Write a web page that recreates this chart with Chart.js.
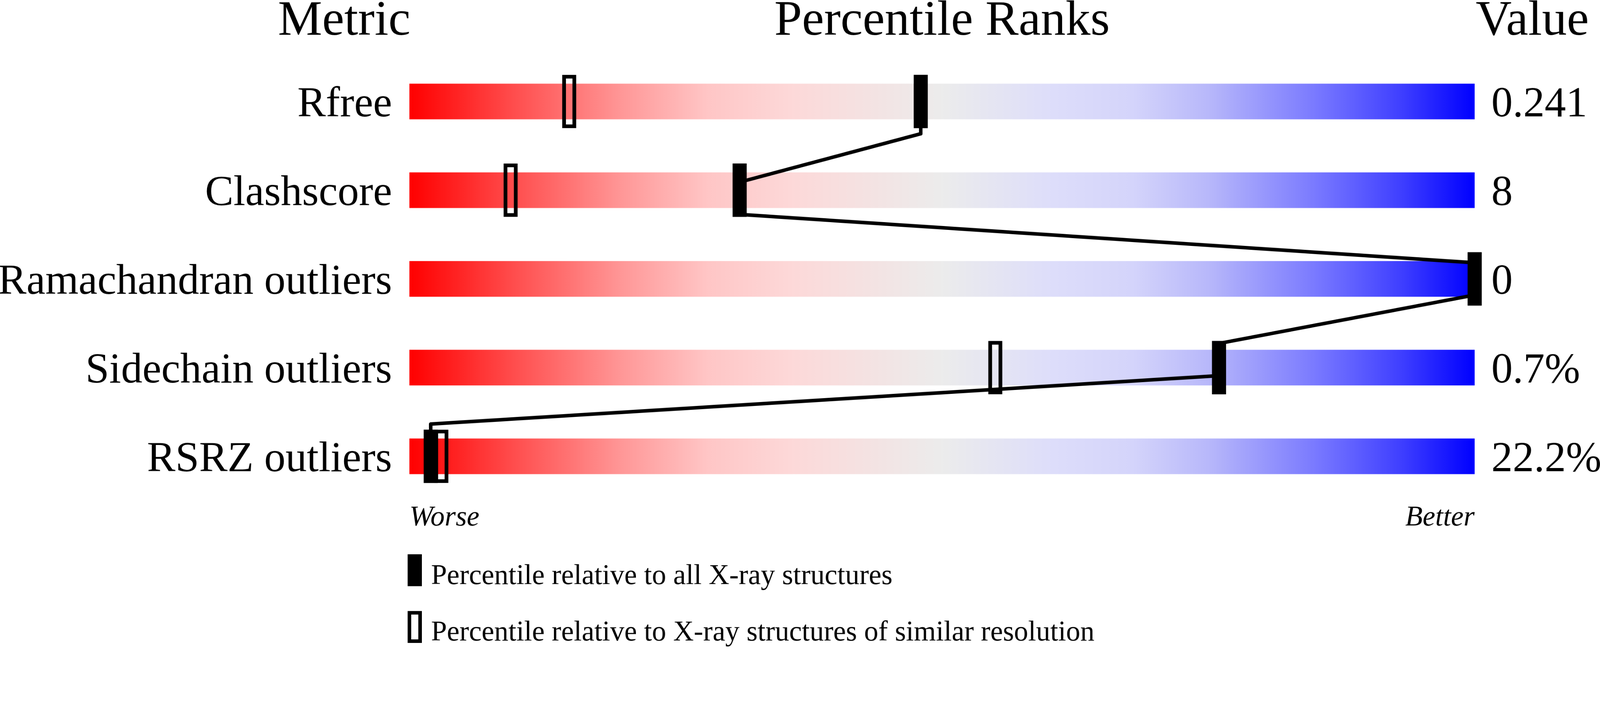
<!DOCTYPE html>
<html>
<head>
<meta charset="utf-8">
<title>Percentile Ranks</title>
<script src="https://cdn.jsdelivr.net/npm/chart.js@4.4.1/dist/chart.umd.min.js"></script>
<style>
    html, body { margin: 0; padding: 0; background: #ffffff; overflow: hidden; }
</style>
</head>
<body>
<!-- drawn on a 4506x1824 grid, stretched to the window width (height keeps the ratio) -->
<canvas id="percentile-canvas" width="4506" height="1824" style="width:100vw;height:auto;"></canvas>
<script>
// Rows, top to bottom
const metrics = ['Rfree', 'Clashscore', 'Ramachandran outliers', 'Sidechain outliers', 'RSRZ outliers'];
// Text of the value column
const valueLabels = ['0.241', '8', '0', '0.7%', '22.2%'];
// Percentile relative to all X-ray structures (filled marker)
const percentileAll = [48, 31, 100, 76, 2];
// Percentile relative to X-ray structures of similar resolution (open marker)
const percentileSimilar = [15, 9.5, 100, 55, 3];

const headerLabels = ['Metric', 'Percentile Ranks', 'Value'];
const axisLabels = ['Worse', 'Better'];
const legendLabels = [
    'Percentile relative to all X-ray structures',
    'Percentile relative to X-ray structures of similar resolution'
];

const SERIF = '"Liberation Serif", "Times New Roman", serif';
const MARKER_HALF = 0.65; // half marker width in percentile units
const BAR_EDGE = 0.2;     // half bar height in row units (100px of 250px)

function gradientFill(context) {
    const chart = context.chart;
    const area = chart.chartArea;
    if (!area) return '#eeeeee';
    const g = chart.ctx.createLinearGradient(area.left, 0, area.right, 0);
    g.addColorStop(0, '#ff0000');
    g.addColorStop(0.1, '#ff4f4f');
    g.addColorStop(0.2, '#ff9898');
    g.addColorStop(0.28, '#ffc6c6');
    g.addColorStop(0.36, '#fdd9d9');
    g.addColorStop(0.5, '#ececec');
    g.addColorStop(0.6, '#dedefa');
    g.addColorStop(0.68, '#d4d4fb');
    g.addColorStop(0.75, '#b8b8fa');
    g.addColorStop(0.85, '#7a7aff');
    g.addColorStop(0.93, '#4040ff');
    g.addColorStop(1, '#0000ff');
    return g;
}

// connecting line: bottom edge of one filled marker to top edge of the next
const linePoints = [];
percentileAll.forEach((p, i) => {
    linePoints.push({ x: p, y: i - BAR_EDGE });
    linePoints.push({ x: p, y: i + BAR_EDGE });
});

// headers, legend
const headersAndLegend = {
    id: 'headersAndLegend',
    afterDraw(chart) {
        const { ctx, chartArea } = chart;
        ctx.save();
        ctx.fillStyle = '#000000';
        ctx.strokeStyle = '#000000';
        ctx.textBaseline = 'alphabetic';

        ctx.font = `140px ${SERIF}`;
        ctx.textAlign = 'right';
        ctx.fillText(headerLabels[0], chartArea.left + 3, 98);
        ctx.textAlign = 'center';
        ctx.fillText(headerLabels[1], (chartArea.left + chartArea.right) / 2, 98);
        ctx.textAlign = 'left';
        ctx.fillText(headerLabels[2], chartArea.right + 3, 98);

        const lx = chartArea.left - 5;
        ctx.fillRect(lx, 1562, 40, 90);
        ctx.lineWidth = 10;
        ctx.strokeRect(lx + 5, 1727, 30, 80);

        ctx.font = `80px ${SERIF}`;
        ctx.fillText(legendLabels[0], chartArea.left + 61, 1646);
        ctx.fillText(legendLabels[1], chartArea.left + 61, 1805);
        ctx.restore();
    }
};

function createPercentileChart() {
    const ctx = document.getElementById('percentile-canvas');

    const config = {
        type: 'bar',
        data: {
            labels: metrics,
            datasets: [
                {
                    label: 'Filled',
                    data: percentileAll.map(p => [p - MARKER_HALF, p + MARKER_HALF]),
                    backgroundColor: '#000000',
                    borderWidth: 0,
                    barThickness: 150,
                    clip: false,
                    order: 1
                },
                {
                    label: 'Open',
                    data: percentileSimilar.map(p => [p - MARKER_HALF, p + MARKER_HALF]),
                    backgroundColor: 'rgba(0, 0, 0, 0)',
                    borderColor: '#000000',
                    borderWidth: 10,
                    borderSkipped: false,
                    barThickness: 150,
                    clip: false,
                    order: 2
                },
                {
                    type: 'line',
                    label: 'Link',
                    data: linePoints,
                    indexAxis: 'x',
                    xAxisID: 'x',
                    yAxisID: 'yl',
                    borderColor: '#000000',
                    borderWidth: 10,
                    borderJoinStyle: 'round',
                    pointRadius: 0,
                    tension: 0,
                    fill: false,
                    clip: false,
                    order: 3
                },
                {
                    label: 'Range',
                    data: metrics.map(() => [0, 100]),
                    backgroundColor: gradientFill,
                    borderWidth: 0,
                    barThickness: 100,
                    order: 4
                }
            ]
        },
        options: {
            indexAxis: 'y',
            responsive: false,
            devicePixelRatio: 1,
            animation: false,
            events: [],
            layout: {
                padding: { top: 161, bottom: 0, left: 0, right: 0 }
            },
            datasets: {
                bar: { grouped: false }
            },
            plugins: {
                legend: { display: false },
                tooltip: { enabled: false }
            },
            scales: {
                x: {
                    type: 'linear',
                    position: 'bottom',
                    min: 0,
                    max: 100,
                    grid: { display: false, drawTicks: false },
                    border: { display: false },
                    ticks: {
                        stepSize: 100,
                        align: 'inner',
                        maxRotation: 0,
                        padding: 1,
                        color: '#000000',
                        font: { family: SERIF, size: 80, style: 'italic' },
                        callback: (v) => v === 0 ? axisLabels[0] : (v === 100 ? axisLabels[1] : '')
                    },
                    afterFit: (scale) => { scale.height = 413; }
                },
                y: {
                    type: 'category',
                    position: 'left',
                    offset: true,
                    grid: { display: false, drawTicks: false },
                    border: { display: false },
                    ticks: {
                        padding: 49,
                        labelOffset: 10,
                        color: '#000000',
                        font: { family: SERIF, size: 120 }
                    },
                    afterFit: (scale) => { scale.width = 1153; }
                },
                yr: {
                    type: 'category',
                    position: 'right',
                    labels: valueLabels,
                    offset: true,
                    grid: { display: false, drawTicks: false },
                    border: { display: false },
                    ticks: {
                        padding: 47,
                        labelOffset: 10,
                        color: '#000000',
                        font: { family: SERIF, size: 120 }
                    },
                    afterFit: (scale) => { scale.width = 353; }
                },
                yl: {
                    type: 'linear',
                    display: false,
                    reverse: true,
                    min: -0.5,
                    max: metrics.length - 0.5
                }
            }
        },
        plugins: [headersAndLegend]
    };

    return new Chart(ctx, config);
}

window.percentileChart = createPercentileChart();
</script>
</body>
</html>
